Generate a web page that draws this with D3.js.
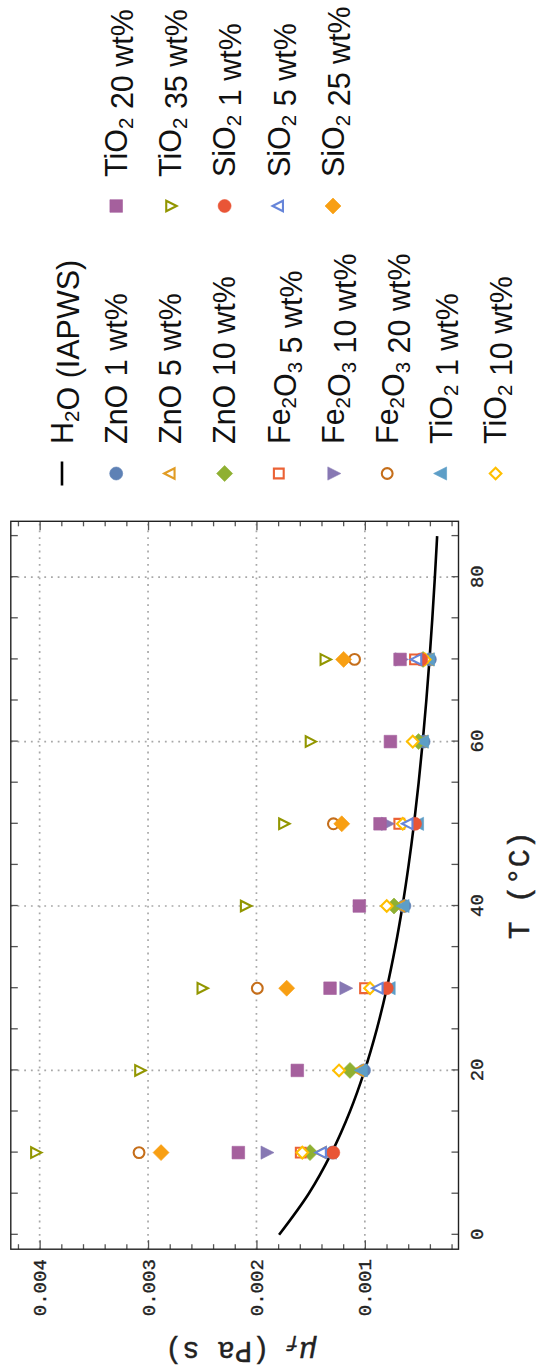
<!DOCTYPE html>
<html>
<head>
<meta charset="utf-8">
<script src="https://cdn.jsdelivr.net/npm/d3@7"></script>
<style>
  html, body { margin: 0; padding: 0; background: #fff; }
  svg { display: block; }
</style>
</head>
<body>
<div id="chart"></div>
<script>
// Measurement temperatures (°C) for each nanofluid group
const tempZnO   = [10, 20, 40, 60, 70];
const tempFe2O3 = [10, 30, 50, 70];
const tempTiO2  = [10, 20, 30, 40, 50, 60, 70];
const tempSiO2  = [10, 30, 50, 70];

// Dynamic viscosity of the nanofluids (Pa s)
const muZnO1    = [0.001300, 0.001008, 0.000635, 0.000458, 0.000400];
const muZnO5    = [0.001400, 0.001055, 0.000675, 0.000465, 0.000410];
const muZnO10   = [0.001506, 0.001137, 0.000731, 0.000505, 0.000463];
const muFe2O3_5  = [0.001591, 0.000998, 0.000682, 0.000537];
const muFe2O3_10 = [0.001910, 0.001183, 0.000798, 0.000670];
const muFe2O3_20 = [0.003083, 0.001992, 0.001290, 0.001095];
const muTiO2_1  = [0.001310, 0.001025, 0.000768, 0.000640, 0.000506, 0.000460, 0.000405];
const muTiO2_10 = [0.001577, 0.001238, 0.000952, 0.000798, 0.000650, 0.000558, 0.000447];
const muTiO2_20 = [0.002167, 0.001623, 0.001321, 0.001051, 0.000860, 0.000764, 0.000675];
const muTiO2_35 = [0.004040, 0.003080, 0.002505, 0.002105, 0.001752, 0.001507, 0.001370];
const muSiO2_1  = [0.001291, 0.000798, 0.000537, 0.000480];
const muSiO2_5  = [0.001398, 0.000875, 0.000599, 0.000518];
const muSiO2_25 = [0.002880, 0.001721, 0.001213, 0.001196];

// Pure water reference curve, IAPWS formulation (Pa s)
const waterT  = [0, 5, 10, 15, 20, 25, 30, 35, 40, 45, 50, 55, 60, 65, 70, 75, 80, 85];
const waterMu = [0.0017914, 0.0015182, 0.0013060, 0.0011376, 0.0010016, 0.0008900,
                 0.0007972, 0.0007191, 0.0006527, 0.0005958, 0.0005465, 0.0005036,
                 0.0004660, 0.0004329, 0.0004035, 0.0003774, 0.0003540, 0.0003330];

// Axis tick values
const tempTicks = [0, 5, 10, 15, 20, 25, 30, 35, 40, 45, 50, 55, 60, 65, 70, 75, 80, 85];
const tempLabels = [0, 20, 40, 60, 80];
const muMajorTicks = [0.001, 0.002, 0.003, 0.004];
const muMinorTicks = [0.0002, 0.0004, 0.0006, 0.0008, 0.0012, 0.0014, 0.0016, 0.0018,
                      0.0022, 0.0024, 0.0026, 0.0028, 0.0032, 0.0034, 0.0036, 0.0038, 0.0042];

// Series: compound, loading label, temperatures, values, marker style
const series = [
  { compound: "ZnO",   load: "1 wt%",  t: tempZnO,   mu: muZnO1,     shape: "circle",   filled: true,  color: "#5E81B5" },
  { compound: "ZnO",   load: "5 wt%",  t: tempZnO,   mu: muZnO5,     shape: "triUp",    filled: false, color: "#E19C24" },
  { compound: "ZnO",   load: "10 wt%", t: tempZnO,   mu: muZnO10,    shape: "diamond",  filled: true,  color: "#8FB032" },
  { compound: "Fe2O3", load: "5 wt%",  t: tempFe2O3, mu: muFe2O3_5,  shape: "square",   filled: false, color: "#EB6235" },
  { compound: "Fe2O3", load: "10 wt%", t: tempFe2O3, mu: muFe2O3_10, shape: "triDown",  filled: true,  color: "#8778B3" },
  { compound: "Fe2O3", load: "20 wt%", t: tempFe2O3, mu: muFe2O3_20, shape: "circle",   filled: false, color: "#C56E1A" },
  { compound: "TiO2",  load: "1 wt%",  t: tempTiO2,  mu: muTiO2_1,   shape: "triUp",    filled: true,  color: "#5D9EC7" },
  { compound: "TiO2",  load: "10 wt%", t: tempTiO2,  mu: muTiO2_10,  shape: "diamond",  filled: false, color: "#FFBF00" },
  { compound: "TiO2",  load: "20 wt%", t: tempTiO2,  mu: muTiO2_20,  shape: "square",   filled: true,  color: "#A5609D" },
  { compound: "TiO2",  load: "35 wt%", t: tempTiO2,  mu: muTiO2_35,  shape: "triDown",  filled: false, color: "#929600" },
  { compound: "SiO2",  load: "1 wt%",  t: tempSiO2,  mu: muSiO2_1,   shape: "circle",   filled: true,  color: "#E95536" },
  { compound: "SiO2",  load: "5 wt%",  t: tempSiO2,  mu: muSiO2_5,   shape: "triUp",    filled: false, color: "#6685D9" },
  { compound: "SiO2",  load: "25 wt%", t: tempSiO2,  mu: muSiO2_25,  shape: "diamond",  filled: true,  color: "#F89F13" }
];

// The figure is laid out landscape and turned a quarter turn onto the portrait page
const pageW = 537, pageH = 1372;
const frame = { left: 122.8, right: 850.7, top: 10.8, bottom: 458.5 };

const svg = d3.select("#chart").append("svg")
  .attr("width", pageW).attr("height", pageH)
  .attr("viewBox", `0 0 ${pageW} ${pageH}`);
svg.append("rect").attr("width", pageW).attr("height", pageH).attr("fill", "#fff");

const root = svg.append("g").attr("transform", `translate(0,${pageH}) rotate(-90)`);

const x = d3.scaleLinear().domain([-1.75, 86.8]).range([frame.left, frame.right]);
const y = d3.scaleLinear().domain([0.000136, 0.004266]).range([frame.bottom, frame.top]);

const monoFont = "'Liberation Mono', 'Courier New', monospace";
const sansFont = "'Liberation Sans', Arial, sans-serif";

// Dotted grid
const grid = root.append("g").attr("stroke", "#a8a8a8").attr("stroke-width", 1.7)
  .attr("stroke-dasharray", "1.8,4.9").attr("fill", "none");
grid.selectAll("line.gx").data(tempLabels.filter(d => d > 0)).join("line")
  .attr("x1", d => x(d)).attr("x2", d => x(d))
  .attr("y1", frame.top).attr("y2", frame.bottom);
grid.selectAll("line.gy").data(muMajorTicks).join("line")
  .attr("x1", frame.left).attr("x2", frame.right)
  .attr("y1", d => y(d)).attr("y2", d => y(d));

// Axes with inward ticks
function styleAxis(g) {
  g.select(".domain").remove();
  g.selectAll(".tick line").attr("stroke", "#555").attr("stroke-width", 1.3);
  g.selectAll(".tick text").attr("font-family", monoFont).attr("font-size", 19)
    .attr("fill", "#222").attr("stroke", "#222").attr("stroke-width", 0.35);
}
root.append("g").attr("transform", `translate(0,${frame.bottom})`)
  .call(d3.axisBottom(x).tickValues(tempTicks).tickSize(-7).tickPadding(11)
    .tickFormat(d => tempLabels.includes(d) ? String(d) : ""))
  .call(styleAxis);
root.append("g").attr("transform", `translate(0,${frame.top})`)
  .call(d3.axisTop(x).tickValues(tempTicks).tickSize(-7).tickFormat(""))
  .call(styleAxis);
root.append("g").attr("transform", `translate(${frame.left},0)`)
  .call(d3.axisLeft(y).tickValues(muMajorTicks).tickSize(-9).tickPadding(10).tickFormat(d3.format(".3f")))
  .call(styleAxis);
root.append("g").attr("transform", `translate(${frame.left},0)`)
  .call(d3.axisLeft(y).tickValues(muMinorTicks).tickSize(-5).tickFormat(""))
  .call(styleAxis);
root.append("g").attr("transform", `translate(${frame.right},0)`)
  .call(d3.axisRight(y).tickValues(muMajorTicks).tickSize(-9).tickFormat(""))
  .call(styleAxis);
root.append("g").attr("transform", `translate(${frame.right},0)`)
  .call(d3.axisRight(y).tickValues(muMinorTicks).tickSize(-5).tickFormat(""))
  .call(styleAxis);

// Frame
root.append("rect")
  .attr("x", frame.left).attr("y", frame.top)
  .attr("width", frame.right - frame.left).attr("height", frame.bottom - frame.top)
  .attr("fill", "none").attr("stroke", "#222").attr("stroke-width", 1.4);

// Water reference curve
const waterLine = d3.line().x(d => x(d[0])).y(d => y(d[1])).curve(d3.curveMonotoneX);
root.append("path")
  .datum(waterT.map((t, i) => [t, waterMu[i]]))
  .attr("d", waterLine)
  .attr("fill", "none").attr("stroke", "#000").attr("stroke-width", 2.6);

// Marker drawing
function markerPath(shape, filled) {
  switch (shape) {
    case "circle": {
      const r = filled ? 6.5 : 5.4;
      return `M${r},0A${r},${r} 0 1,1 ${-r},0A${r},${r} 0 1,1 ${r},0Z`;
    }
    case "square": {
      const h = filled ? 6.3 : 4.9;
      return `M${-h},${-h}H${h}V${h}H${-h}Z`;
    }
    case "diamond": {
      const h = filled ? 8 : 5.8;
      return `M0,${-h}L${h},0L0,${h}L${-h},0Z`;
    }
    case "triUp": {
      const s = filled ? 1 : 0.8;
      return `M0,${-7.8 * s}L${6.6 * s},${5.2 * s}L${-6.6 * s},${5.2 * s}Z`;
    }
    case "triDown": {
      const s = filled ? 1 : 0.8;
      return `M0,${7.8 * s}L${6.6 * s},${-5.2 * s}L${-6.6 * s},${-5.2 * s}Z`;
    }
  }
}
function drawMarker(sel, s) {
  sel.attr("d", markerPath(s.shape, s.filled))
    .attr("fill", s.filled ? s.color : "#fff")
    .attr("stroke", s.color)
    .attr("stroke-width", s.filled ? 0.6 : 2.1)
    .attr("stroke-linejoin", "miter");
}

const pts = root.append("g");
series.forEach(s => {
  pts.append("g").selectAll("path")
    .data(s.t.map((t, i) => [t, s.mu[i]]))
    .join("path")
    .attr("transform", d => `translate(${x(d[0])},${y(d[1])})`)
    .call(sel => drawMarker(sel, s));
});

// Axis titles
root.append("text")
  .attr("x", (frame.left + frame.right) / 2).attr("y", 529)
  .attr("text-anchor", "middle")
  .attr("font-family", monoFont).attr("font-size", 30).attr("fill", "#222")
  .attr("stroke", "#222").attr("stroke-width", 0.4)
  .text("T (°C)");

const muLabel = root.append("text")
  .attr("transform", `translate(30,${(frame.top + frame.bottom) / 2 + 6}) rotate(-90)`)
  .attr("text-anchor", "middle")
  .attr("font-family", monoFont).attr("font-size", 29).attr("fill", "#222")
  .attr("stroke", "#222").attr("stroke-width", 0.4);
muLabel.append("tspan").attr("font-style", "italic").text("μ");
muLabel.append("tspan").attr("font-style", "italic").attr("font-size", 20).attr("dy", 6).text("f");
muLabel.append("tspan").attr("dy", -6).text(" (Pa s)");

// Legend
function chemText(textSel, compound, rest) {
  compound.split(/(\d+)/).filter(p => p.length).forEach(part => {
    if (/^\d+$/.test(part)) {
      textSel.append("tspan").attr("font-size", 20.5).attr("dy", 6).text(part);
      textSel.append("tspan").attr("dy", -6).text("");
    } else {
      textSel.append("tspan").text(part);
    }
  });
  textSel.append("tspan").text(" " + rest);
}

const legendRowY = [62, 116.2, 170.4, 224.6, 278.8, 333, 387.2, 441.4, 495.6];
const legCol = [{ mx: 898.5, tx: 928 }, { mx: 1166, tx: 1195 }];
const legend = root.append("g");
const legendFontSize = 30.5;

// water entry
legend.append("line")
  .attr("x1", legCol[0].mx - 12).attr("x2", legCol[0].mx + 12)
  .attr("y1", legendRowY[0]).attr("y2", legendRowY[0])
  .attr("stroke", "#000").attr("stroke-width", 2.6);
const wt = legend.append("text")
  .attr("x", legCol[0].tx).attr("y", legendRowY[0] + 10.8)
  .attr("font-family", sansFont).attr("font-size", legendFontSize).attr("fill", "#111");
chemText(wt, "H2O", "(IAPWS)");

series.forEach((s, i) => {
  const col = i < 8 ? legCol[0] : legCol[1];
  const row = i < 8 ? i + 1 : i - 7;
  const cy = legendRowY[row];
  legend.append("path")
    .attr("transform", `translate(${col.mx},${cy})`)
    .call(sel => drawMarker(sel, s));
  const t = legend.append("text")
    .attr("x", col.tx).attr("y", cy + 10.8)
    .attr("font-family", sansFont).attr("font-size", legendFontSize).attr("fill", "#111");
  chemText(t, s.compound, s.load);
});
</script>
</body>
</html>
